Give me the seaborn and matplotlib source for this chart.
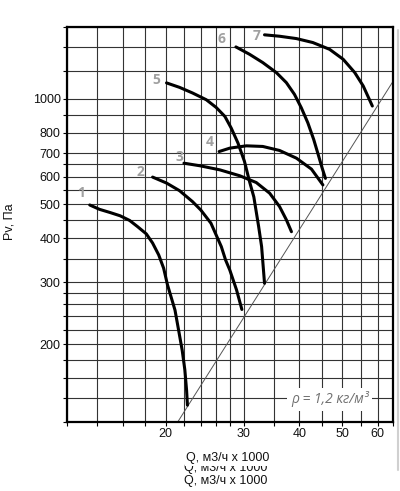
import numpy as np
import pandas as pd
import matplotlib
matplotlib.use("Agg")
import matplotlib.pyplot as plt
import matplotlib.ticker as mticker
from matplotlib.lines import Line2D
import seaborn as sns

# Характеристики вентилятора (Q в тыс. м3/ч, Pv в Па)
q1 = [13.5, 14.2, 15.0, 15.8, 16.6, 17.3, 18.1, 18.7, 19.3, 19.8, 20.2,
      21.0, 21.4, 21.8, 22.1, 22.3, 22.4]
p1 = [498, 484, 474, 464, 450, 432, 412, 388, 359, 329, 295,
      250, 219, 192, 169, 148, 134]
q2 = [18.7, 20.1, 21.5, 23.0, 24.0, 25.3, 26.2, 26.7, 27.3, 27.9, 28.9, 29.7]
p2 = [598, 575, 547, 509, 482, 442, 400, 379, 347, 325, 285, 251]
q3 = [22.0, 23.9, 26.5, 29.4, 32.0, 34.3, 36.1, 37.4, 38.4]
p3 = [655, 644, 627, 603, 577, 538, 493, 452, 418]
q4 = [26.4, 27.9, 30.4, 33.1, 36.1, 39.4, 42.6, 45.2]
p4 = [707, 723, 734, 731, 712, 677, 630, 568]
q5 = [20.1, 21.5, 23.0, 24.7, 26.0, 27.2, 28.1, 29.1, 30.1, 30.9, 31.6,
      32.4, 32.9, 33.4]
p5 = [1109, 1077, 1038, 993, 944, 890, 825, 748, 663, 581, 525,
      432, 379, 298]
q6 = [28.8, 30.9, 33.1, 35.5, 37.4, 39.0, 40.4, 41.8, 43.1, 44.1, 45.0, 45.8]
p6 = [1404, 1338, 1267, 1187, 1111, 1029, 943, 854, 765, 694, 636, 593]
q7 = [33.4, 36.1, 39.4, 42.9, 46.8, 50.2, 53.3, 55.7, 58.4]
p7 = [1520, 1506, 1483, 1445, 1382, 1295, 1187, 1087, 953]

curve_names = ["1", "2", "3", "4", "5", "6", "7"]
label_q = [12.9, 17.6, 21.5, 25.2, 19.1, 26.7, 32.1]
label_p = [539, 619, 683, 754, 1133, 1483, 1513]

# линия сети
system_q = [21.3, 65]
system_p = [120, 1120]

x_grid = [12, 14, 16, 18, 20, 22, 24, 26, 28, 30, 35, 40, 45, 50, 55, 60, 65]
x_labels = {20: "20", 30: "30", 40: "40", 50: "50", 60: "60"}
y_grid = [120, 140, 160, 180, 200, 220, 240, 260, 280, 300, 350, 400, 450,
          500, 550, 600, 650, 700, 800, 900, 1000, 1200, 1400, 1600]
y_labels = {200: "200", 300: "300", 400: "400", 500: "500", 600: "600",
            700: "700", 800: "800", 1000: "1000"}

sns.set_theme(style="white")
plt.rcParams["font.family"] = ["Liberation Sans", "DejaVu Sans"]
plt.rcParams["font.size"] = 9

fig = plt.figure(figsize=(4, 4.91), dpi=100)
ax = fig.add_axes([67 / 400, 1 - 422 / 491, 326 / 400, 395 / 491])

ax.set_xscale("log")
ax.set_yscale("log")
ax.set_xlim(12, 65)
ax.set_ylim(120, 1600)

ax.xaxis.set_major_locator(mticker.FixedLocator(x_grid))
ax.xaxis.set_major_formatter(mticker.FixedFormatter([x_labels.get(v, "") for v in x_grid]))
ax.xaxis.set_minor_locator(mticker.NullLocator())
ax.yaxis.set_major_locator(mticker.FixedLocator(y_grid))
ax.yaxis.set_major_formatter(mticker.FixedFormatter([y_labels.get(v, "") for v in y_grid]))
ax.yaxis.set_minor_locator(mticker.NullLocator())

ax.grid(True, which="major", color="#333333", linewidth=0.8)
ax.tick_params(axis="both", direction="out", length=3, width=0.8, color="black",
               labelsize=9, labelcolor="#111111", pad=1.5, bottom=True, left=True)
for side, sp in ax.spines.items():
    sp.set_color("black")
    sp.set_linewidth(1.6)

sns.lineplot(x=system_q, y=system_p, ax=ax, color="#555555", linewidth=0.7,
             sort=False, estimator=None)

curves = [(q1, p1), (q2, p2), (q3, p3), (q4, p4), (q5, p5), (q6, p6), (q7, p7)]
for q, p in curves:
    sns.lineplot(x=q, y=p, ax=ax, color="black", linewidth=2.2, sort=False,
                 estimator=None, solid_joinstyle="round")

for name, lq, lp in zip(curve_names, label_q, label_p):
    ax.text(lq, lp, name, ha="center", va="center", fontsize=10,
            fontweight="bold", color="#a0a0a0", family=["Open Sans", "DejaVu Sans"])

ax.text(46.8, 139.5, "ρ = 1,2 кг/м³", ha="center", va="center", fontsize=10,
        style="italic", color="#707070", family=["Open Sans", "DejaVu Sans"],
        bbox=dict(facecolor="white", edgecolor="none", pad=2.5))

ax.set_xlabel("")
ax.set_ylabel("")

fig.text(10 / 400, 1 - 222 / 491, "Pv, Па", rotation=90, ha="center", va="center",
         fontsize=9, color="#111111")
# подпись оси X (в оригинале дублируется)
fig.text(226 / 400, 1 - 468 / 491, "Q, м3/ч x 1000", ha="center", va="center",
         fontsize=9, color="#111111", zorder=1)
fig.text(228 / 400, 1 - 458 / 491, "Q, м3/ч x 1000", ha="center", va="center",
         fontsize=9, color="#111111", zorder=3,
         bbox=dict(facecolor="white", edgecolor="none", pad=1.2))
fig.text(226 / 400, 1 - 481 / 491, "Q, м3/ч x 1000", ha="center", va="center",
         fontsize=9, color="#111111")

fig.add_artist(Line2D([397.5 / 400, 397.5 / 400], [1 - 30 / 491, 1 - 470 / 491],
                      transform=fig.transFigure, color="#d0d0d0", linewidth=1.5))

fig.savefig("out.png", dpi=100)
